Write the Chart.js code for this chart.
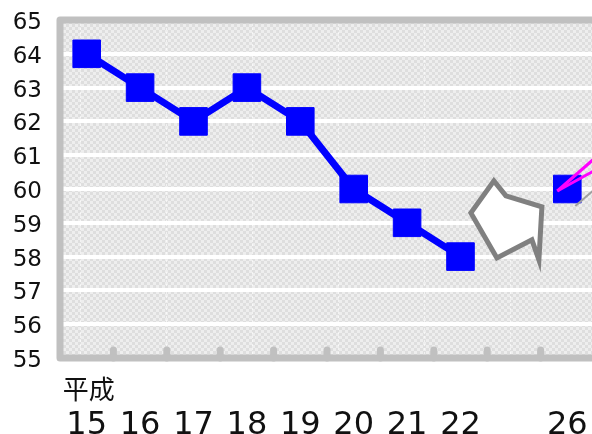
<!DOCTYPE html>
<html>
<head>
<meta charset="utf-8">
<script src="https://cdn.jsdelivr.net/npm/chart.js@4"></script>
<style>
html,body{margin:0;padding:0;background:#fff;overflow:hidden;width:592px;height:434px;}
#c{display:block;}
</style>
</head>
<body>
<canvas id="c" width="600" height="434"></canvas>
<script>
// Data
const categories = ['15','16','17','18','19','20','21','22','','26'];
const values = [64, 63, 62, 63, 62, 60, 59, 58, null, 60];
const yTicks = [55, 56, 57, 58, 59, 60, 61, 62, 63, 64, 65];
const eraLabel = '平成';

const BORDER = '#c0c0c0';

function makeChecker(ctx) {
  const t = document.createElement('canvas');
  t.width = 6; t.height = 6;
  const g = t.getContext('2d');
  g.fillStyle = '#eeeeee'; g.fillRect(0,0,6,6);
  g.fillStyle = '#dedede'; g.fillRect(0,0,3,3); g.fillRect(3,3,3,3);
  return ctx.createPattern(t, 'repeat');
}

function zeroPad(s) { s.paddingTop = 0; s.paddingBottom = 0; s.paddingLeft = 0; s.paddingRight = 0; }

const decor = {
  id: 'decor',
  beforeDraw(chart) {
    const {ctx, chartArea: a} = chart;
    ctx.save();
    ctx.fillStyle = makeChecker(ctx);
    ctx.fillRect(a.left, a.top, a.right - a.left, a.bottom - a.top);
    ctx.strokeStyle = 'rgba(255,255,255,0.6)';
    ctx.lineWidth = 1;
    ctx.setLineDash([2,2]);
    for (let x = 80.5; x < a.right; x += 86) {
      ctx.beginPath(); ctx.moveTo(x, a.top); ctx.lineTo(x, a.bottom); ctx.stroke();
    }
    ctx.restore();
  },
  afterDatasetsDraw(chart) {
    const {ctx, chartArea: a, scales} = chart;
    const xs = scales.x, ys = scales.y;
    ctx.save();
    // tick bumps at category boundaries
    ctx.strokeStyle = BORDER;
    ctx.lineWidth = 7;
    ctx.lineCap = 'round';
    for (let i = 0; i < categories.length - 1; i++) {
      const x = (xs.getPixelForValue(i) + xs.getPixelForValue(i + 1)) / 2;
      ctx.beginPath(); ctx.moveTo(x, a.bottom - 8); ctx.lineTo(x, a.bottom); ctx.stroke();
    }
    // frame
    ctx.lineCap = 'butt';
    ctx.lineJoin = 'round';
    ctx.beginPath();
    ctx.moveTo(a.right + 10, a.top);
    ctx.lineTo(a.left, a.top);
    ctx.lineTo(a.left, a.bottom);
    ctx.lineTo(a.right + 10, a.bottom);
    ctx.stroke();

    // arrow decoration between 22 and 26
    const ax = xs.getPixelForValue(8), ay = ys.getPixelForValue(59.5);
    const pts = [[-43,7],[-20,-25],[-8,-10],[28,1],[25,54],[18,34],[-17,52]];
    ctx.beginPath();
    pts.forEach((p, i) => { const px = ax + p[0], py = ay + p[1]; i ? ctx.lineTo(px, py) : ctx.moveTo(px, py); });
    ctx.closePath();
    ctx.fillStyle = '#ffffff';
    ctx.fill();
    ctx.strokeStyle = '#808080';
    ctx.lineWidth = 5;
    ctx.lineJoin = 'miter';
    ctx.stroke();

    // continuation lines beyond 26
    const px = xs.getPixelForValue(9), py = ys.getPixelForValue(60);
    ctx.strokeStyle = '#a0a0a0';
    ctx.lineWidth = 2;
    ctx.beginPath(); ctx.moveTo(px + 8, py + 17); ctx.lineTo(px + 30, py - 2); ctx.stroke();
    ctx.strokeStyle = '#ff00ff';
    ctx.lineWidth = 3;
    ctx.beginPath(); ctx.moveTo(px - 10, py + 2); ctx.lineTo(px + 30, py - 33); ctx.stroke();
    ctx.beginPath(); ctx.moveTo(px - 10, py + 2); ctx.lineTo(px + 30, py - 20); ctx.stroke();

    // era label
    ctx.fillStyle = '#111';
    ctx.font = '26px "Noto Sans CJK JP"';
    ctx.textAlign = 'center';
    ctx.textBaseline = 'middle';
    ctx.fillText(eraLabel, xs.getPixelForValue(0) + 2, 389);
    ctx.restore();
  }
};

new Chart(document.getElementById('c'), {
  type: 'line',
  data: {
    labels: categories,
    datasets: [{
      data: values,
      borderColor: '#0000ff',
      backgroundColor: '#0000ff',
      borderWidth: 7,
      pointStyle: 'rect',
      pointRadius: 19.5,
      pointBorderWidth: 1,
      pointBorderColor: '#0000ff',
      pointBackgroundColor: '#0000ff',
      spanGaps: false,
      tension: 0
    }]
  },
  options: {
    responsive: false,
    animation: false,
    devicePixelRatio: 1,
    layout: { autoPadding: false, padding: { top: 20, right: 6, left: 0, bottom: 0 } },
    plugins: { legend: { display: false }, tooltip: { enabled: false } },
    scales: {
      x: {
        type: 'category',
        offset: true,
        grid: { display: false, drawTicks: false },
        border: { display: false },
        ticks: {
          color: '#111',
          font: { family: '"DejaVu Sans"', size: 32 },
          padding: 48,
          maxRotation: 0,
          autoSkip: false
        },
        afterFit(s) { s.height = 76; zeroPad(s); }
      },
      y: {
        min: 55, max: 65,
        afterBuildTicks(s) { s.ticks = yTicks.map(v => ({ value: v })); },
        grid: {
          color: (c) => (c.tick && (c.tick.value === 55 || c.tick.value === 65)) ? 'rgba(0,0,0,0)' : '#ffffff',
          lineWidth: 4,
          drawTicks: false
        },
        border: { display: false },
        ticks: {
          color: '#111',
          font: { family: '"DejaVu Sans"', size: 23 },
          padding: 18,
          labelOffset: 3
        },
        afterFit(s) { s.width = 60; zeroPad(s); }
      }
    }
  },
  plugins: [decor]
});
</script>
</body>
</html>
